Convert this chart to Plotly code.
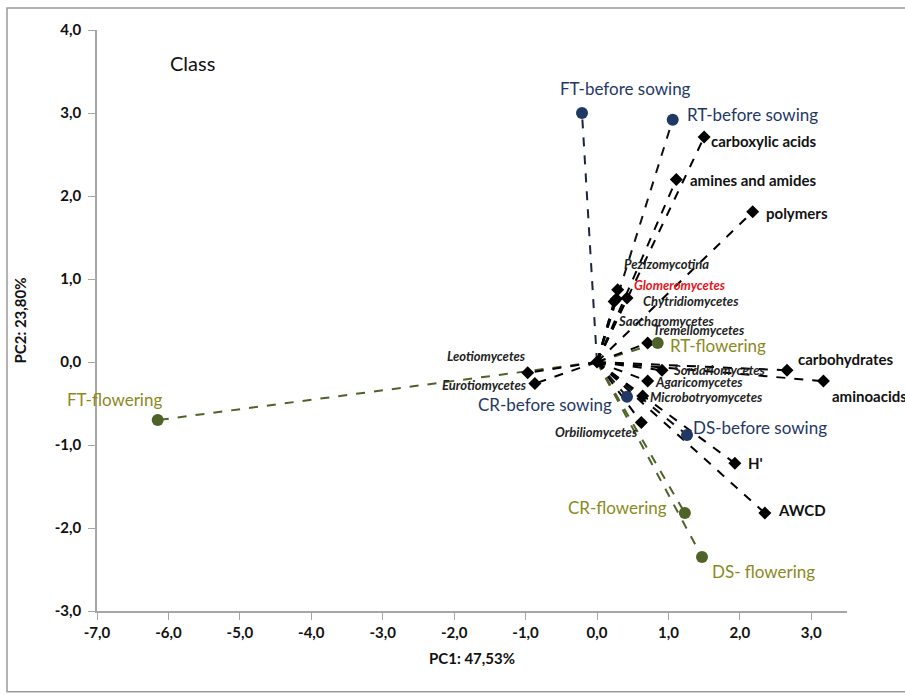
import plotly.graph_objects as go

# ---- data ----
sample_names = ["FT-before sowing", "RT-before sowing", "CR-before sowing", "DS-before sowing",
                "FT-flowering", "RT-flowering", "CR-flowering", "DS- flowering"]
sample_pc1 = [-0.21, 1.06, 0.42, 1.26, -6.15, 0.85, 1.23, 1.47]
sample_pc2 = [3.00, 2.92, -0.42, -0.88, -0.70, 0.23, -1.82, -2.35]
sample_group = ["before", "before", "before", "before", "flower", "flower", "flower", "flower"]

var_names = ["carboxylic acids", "amines and amides", "polymers", "carbohydrates", "aminoacids", "H'", "AWCD"]
var_pc1 = [1.50, 1.11, 2.18, 2.66, 3.17, 1.93, 2.35]
var_pc2 = [2.71, 2.20, 1.81, -0.10, -0.23, -1.22, -1.82]

class_names = ["Pezizomycotina", "Glomeromycetes", "Chytridiomycetes", "Saccharomycetes", "Tremellomycetes",
               "Leotiomycetes", "Eurotiomycetes", "Sordariomycetes", "Agaricomycetes",
               "Microbotryomycetes", "Orbiliomycetes"]
class_pc1 = [0.29, 0.42, 0.24, 0.27, 0.71, -0.97, -0.87, 0.91, 0.71, 0.64, 0.62]
class_pc2 = [0.87, 0.77, 0.73, 0.76, 0.23, -0.13, -0.26, -0.10, -0.23, -0.41, -0.73]

x_ticks = [-7, -6, -5, -4, -3, -2, -1, 0, 1, 2, 3]
y_ticks = [-3, -2, -1, 0, 1, 2, 3, 4]


def fmt(v):
    return "<b>" + ("%.1f" % v).replace(".", ",") + "</b>"


# ---- styles ----
NAVY = "#1F3864"
OLIVE_PT = "#4F6228"
OLIVE_TXT = "#8A8A1C"
FONT = "Lato"

# label placement (anchor, xshift, yshift)
sample_lab = {
    "FT-before sowing": ("center", 43, 25),
    "RT-before sowing": ("left", 12, 5),
    "CR-before sowing": ("right", -13, -8),
    "DS-before sowing": ("left", 4, 8),
    "FT-flowering": ("left", -93, 21),
    "RT-flowering": ("left", 10, -3),
    "CR-flowering": ("right", -16, 6),
    "DS- flowering": ("left", 8, -14),
}
var_lab = {
    "carboxylic acids": ("left", 5, -4),
    "amines and amides": ("left", 12, -1),
    "polymers": ("left", 11, -1),
    "carbohydrates": ("left", 9, 11),
    "aminoacids": ("left", 7, -15),
    "H'": ("left", 11, 0),
    "AWCD": ("left", 11, 3),
}
class_lab = {
    "Pezizomycotina": ("left", 4, 26),
    "Glomeromycetes": ("left", 5, 13),
    "Chytridiomycetes": ("left", 27, 0),
    "Saccharomycetes": ("left", 0, -22),
    "Tremellomycetes": ("left", 3, 13),
    "Leotiomycetes": ("right", 0, 17),
    "Eurotiomycetes": ("right", -6, -1),
    "Sordariomycetes": ("left", 9, 0),
    "Agaricomycetes": ("left", 5, -1),
    "Microbotryomycetes": ("left", 5, -1),
    "Orbiliomycetes": ("right", -1, -9),
}

fig = go.Figure()

# rays from origin
for n, x, y, g in zip(sample_names, sample_pc1, sample_pc2, sample_group):
    col = "#111111" if g == "before" else OLIVE_PT
    if n == "FT-before sowing":
        col = "#1a2540"
    fig.add_trace(go.Scatter(x=[0, x], y=[0, y], mode="lines",
                             line=dict(color=col, width=2, dash="dash"),
                             showlegend=False, hoverinfo="skip"))
for x, y in zip(var_pc1 + class_pc1, var_pc2 + class_pc2):
    fig.add_trace(go.Scatter(x=[0, x], y=[0, y], mode="lines",
                             line=dict(color="#000000", width=2, dash="dash"),
                             showlegend=False, hoverinfo="skip"))

# markers
fig.add_trace(go.Scatter(x=var_pc1 + class_pc1 + [0], y=var_pc2 + class_pc2 + [0], mode="markers",
                         marker=dict(symbol="diamond", size=10, color="#000000"),
                         showlegend=False))
fig.add_trace(go.Scatter(x=sample_pc1, y=sample_pc2, mode="markers",
                         marker=dict(size=12, color=[NAVY if g == "before" else OLIVE_PT for g in sample_group]),
                         showlegend=False))

# labels
for n, x, y, g in zip(sample_names, sample_pc1, sample_pc2, sample_group):
    a, dx, dy = sample_lab[n]
    fig.add_annotation(x=x, y=y, text=n, showarrow=False, xanchor=a, yanchor="middle",
                       xshift=dx, yshift=dy,
                       font=dict(family=FONT, size=17, color=NAVY if g == "before" else OLIVE_TXT))
for n, x, y in zip(var_names, var_pc1, var_pc2):
    a, dx, dy = var_lab[n]
    fig.add_annotation(x=x, y=y, text="<b>" + n + "</b>", showarrow=False, xanchor=a, yanchor="middle",
                       xshift=dx, yshift=dy, font=dict(family=FONT, size=15, color="#111111"))
for n, x, y in zip(class_names, class_pc1, class_pc2):
    a, dx, dy = class_lab[n]
    col = "#E8141B" if n == "Glomeromycetes" else "#222222"
    fig.add_annotation(x=x, y=y, text="<b><i>" + n + "</i></b>", showarrow=False, xanchor=a, yanchor="middle",
                       xshift=dx, yshift=dy, font=dict(family=FONT, size=13, color=col))

fig.add_annotation(x=-5.67, y=3.6, text="Class", showarrow=False, xanchor="center", yanchor="middle",
                   font=dict(family=FONT, size=20, color="#111111"))

# outer frame
fig.add_shape(type="rect", xref="paper", yref="paper", x0=-0.12, x1=1.2, y0=-0.139, y1=1.038,
              line=dict(color="#9a9a9a", width=1.5))

fig.update_layout(
    width=905, height=695,
    margin=dict(l=97, r=58, t=30, b=84),
    paper_bgcolor="white", plot_bgcolor="white",
    font=dict(family=FONT, size=14, color="#111111"),
    xaxis=dict(range=[-7, 3.5], tickvals=x_ticks, ticktext=[fmt(v) for v in x_ticks],
               showgrid=False, zeroline=False, showline=True, linecolor="#a6a6a6", linewidth=1.5,
               ticks="outside", tickcolor="#a6a6a6", ticklen=7, automargin=False,
               tickfont=dict(family=FONT, size=15, color="#111111"),
               title=dict(text="<b>PC1: 47,53%</b>", font=dict(family=FONT, size=15, color="#111111"), standoff=14)),
    yaxis=dict(range=[-3, 4], tickvals=y_ticks, ticktext=[fmt(v) for v in y_ticks],
               showgrid=False, zeroline=False, showline=True, linecolor="#a6a6a6", linewidth=1.5,
               ticks="outside", tickcolor="#a6a6a6", ticklen=7, automargin=False, ticklabelstandoff=4,
               tickfont=dict(family=FONT, size=15, color="#111111"),
               title=dict(text="<b>PC2: 23,80%</b>", font=dict(family=FONT, size=15, color="#111111"), standoff=24)),
)

fig.write_html("out.html", config={"displayModeBar": False},
               post_script="document.body.style.margin='0';document.body.style.overflow='hidden';")
